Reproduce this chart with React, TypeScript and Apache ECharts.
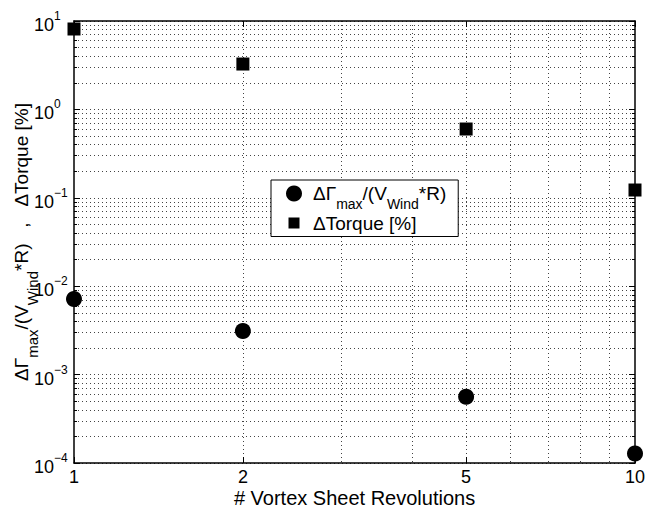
import React, { useEffect, useRef } from 'react';
import * as echarts from 'echarts';

// ---- data ----
const X_VALUES = [1, 2, 5, 10];
const GAMMA_VALUES = [0.00716, 0.00311, 0.000562, 0.000128];
const TORQUE_VALUES = [8.12, 3.26, 0.6, 0.1225];

// ---- ticks ----
const X_TICKS = [1, 2, 5, 10];
const X_GRID = [2, 3, 4, 5, 6, 7, 8, 9];
const Y_DECADES = [0.0001, 0.001, 0.01, 0.1, 1, 10];
const Y_MULTIPLIERS = [1, 2, 3, 4, 5, 6, 7, 8, 9];
const Y_ALL: number[] = [];
Y_DECADES.slice(0, -1).forEach((d) => Y_MULTIPLIERS.forEach((m) => Y_ALL.push(+(d * m).toPrecision(6))));
Y_ALL.push(10);

const GAMMA_NAME = 'ΔΓmax/(VWind*R)';
const TORQUE_NAME = 'ΔTorque [%]';

const FONT = '"Liberation Sans", Arial, Helvetica, sans-serif';

const expLabel = (v: number) => {
  const e = Math.round(Math.log10(v));
  return `{b|10}{s|${e < 0 ? '\u2212' + -e : e}}`;
};

const SQUARE_ICON =
  'image://data:image/svg+xml;charset=utf-8,' +
  encodeURIComponent(
    '<svg xmlns="http://www.w3.org/2000/svg" width="28" height="16" viewBox="0 0 28 16"><rect x="8.5" y="2.5" width="11" height="11" fill="#000"/></svg>'
  );

const gridLine = { show: true, lineStyle: { color: '#444', width: 1, type: [1, 3] as any } };
const axisLineStyle = { show: true, onZero: false, lineStyle: { color: '#000', width: 1.5 } };

const legendRich = {
  n: { fontSize: 19, lineHeight: 24, fontFamily: FONT, color: '#000' },
  s: { fontSize: 14, lineHeight: 4, height: 4, verticalAlign: 'bottom', fontFamily: FONT, color: '#000' },
};
const yNameRich = {
  n: { fontSize: 19, lineHeight: 24, fontFamily: FONT, color: '#000' },
  s: { fontSize: 15, lineHeight: 2, height: 2, verticalAlign: 'bottom', fontFamily: FONT, color: '#000' },
};

const option: any = {
  animation: false,
  backgroundColor: '#fff',
  textStyle: { fontFamily: FONT, color: '#000' },
  grid: { left: 74, right: 11, top: 21, bottom: 47, containLabel: false, outerBoundsMode: 'none' },
  xAxis: [
    {
      type: 'log',
      logBase: 10,
      min: 1,
      max: 10,
      position: 'bottom',
      name: '# Vortex Sheet Revolutions',
      nameLocation: 'middle',
      nameGap: 25,
      nameMoveOverlap: false,
      nameTextStyle: { fontSize: 20, color: '#000', fontFamily: FONT },
      axisLine: axisLineStyle,
      axisTick: { show: true, inside: true, length: 6, customValues: X_TICKS, lineStyle: { color: '#000', width: 1 } },
      axisLabel: { show: true, customValues: X_TICKS, fontSize: 18, color: '#000', margin: 5, fontFamily: FONT },
      splitLine: { show: false },
      minorTick: { show: false },
    },
    {
      type: 'log',
      logBase: 10,
      min: 1,
      max: 10,
      position: 'top',
      axisLine: axisLineStyle,
      axisTick: { show: true, inside: true, length: 6, customValues: X_TICKS, lineStyle: { color: '#000', width: 1 } },
      axisLabel: { show: false },
      splitLine: { show: false },
    },
    {
      type: 'log',
      logBase: 10,
      min: 1,
      max: 10,
      position: 'bottom',
      axisLine: { show: false },
      axisTick: { show: false, customValues: X_GRID },
      axisLabel: { show: false },
      splitLine: gridLine,
    },
  ],
  yAxis: [
    {
      type: 'log',
      logBase: 10,
      min: 0.0001,
      max: 10,
      position: 'left',
      name: '{n|ΔΓ}{s|max}{n|/(V}{s|Wind}{n|*R)   ,   ΔTorque [%]}',
      nameLocation: 'middle',
      nameRotate: 90,
      nameGap: 41,
      nameMoveOverlap: false,
      nameTextStyle: { color: '#000', fontFamily: FONT, rich: yNameRich },
      axisLine: axisLineStyle,
      axisTick: { show: true, inside: true, length: 6, customValues: Y_DECADES, lineStyle: { color: '#000', width: 1 } },
      axisLabel: {
        show: true,
        customValues: Y_DECADES,
        formatter: (v: number) => expLabel(v),
        align: 'left',
        margin: 40,
        rich: {
          b: { fontSize: 18, lineHeight: 22, height: 14, verticalAlign: 'bottom', fontFamily: FONT, color: '#000' },
          s: { fontSize: 12, lineHeight: 12, height: 12, verticalAlign: 'top', fontFamily: FONT, color: '#000' },
        },
      },
      splitLine: { show: false },
    },
    {
      type: 'log',
      logBase: 10,
      min: 0.0001,
      max: 10,
      position: 'left',
      axisLine: { show: false },
      axisTick: { show: true, inside: true, length: 3, customValues: Y_ALL, lineStyle: { color: '#000', width: 1 } },
      axisLabel: { show: false },
      splitLine: gridLine,
    },
    {
      type: 'log',
      logBase: 10,
      min: 0.0001,
      max: 10,
      position: 'right',
      axisLine: axisLineStyle,
      axisTick: { show: true, inside: true, length: 6, customValues: Y_DECADES, lineStyle: { color: '#000', width: 1 } },
      axisLabel: { show: false },
      splitLine: { show: false },
    },
    {
      type: 'log',
      logBase: 10,
      min: 0.0001,
      max: 10,
      position: 'right',
      axisLine: { show: false },
      axisTick: { show: true, inside: true, length: 3, customValues: Y_ALL, lineStyle: { color: '#000', width: 1 } },
      axisLabel: { show: false },
      splitLine: { show: false },
    },
  ],
  legend: {
    show: true,
    orient: 'vertical',
    left: 271,
    top: 180,
    padding: [4, 12, 4, 9],
    itemGap: 3,
    itemWidth: 28,
    itemHeight: 16,
    borderColor: '#000',
    borderWidth: 1,
    backgroundColor: '#fff',
    data: [
      { name: GAMMA_NAME, icon: 'circle' },
      { name: TORQUE_NAME, icon: SQUARE_ICON },
    ],
    formatter: (name: string) =>
      name === GAMMA_NAME ? '{n|ΔΓ}{s|max}{n|/(V}{s|Wind}{n|*R)}' : '{n|ΔTorque [%]}',
    textStyle: { color: '#000', fontFamily: FONT, rich: legendRich },
  },
  series: [
    {
      type: 'scatter',
      name: GAMMA_NAME,
      xAxisIndex: 0,
      yAxisIndex: 0,
      symbol: 'circle',
      symbolSize: 16,
      clip: false,
      itemStyle: { color: '#000', opacity: 1 },
      data: X_VALUES.map((x, i) => [x, GAMMA_VALUES[i]]),
      z: 5,
    },
    {
      type: 'scatter',
      name: TORQUE_NAME,
      xAxisIndex: 0,
      yAxisIndex: 0,
      symbol: 'rect',
      symbolSize: 13,
      clip: false,
      itemStyle: { color: '#000', opacity: 1 },
      data: X_VALUES.map((x, i) => [x, TORQUE_VALUES[i]]),
      z: 5,
    },
  ],
};

export default function App() {
  const ref = useRef<HTMLDivElement>(null);
  useEffect(() => {
    if (!ref.current) return;
    const chart = echarts.init(ref.current, null, { renderer: 'svg' });
    chart.setOption(option);
    return () => chart.dispose();
  }, []);
  return (
    <div
      ref={ref}
      style={{ position: 'absolute', left: 0, top: 0, width: 646, height: 510, background: '#fff' }}
    />
  );
}
